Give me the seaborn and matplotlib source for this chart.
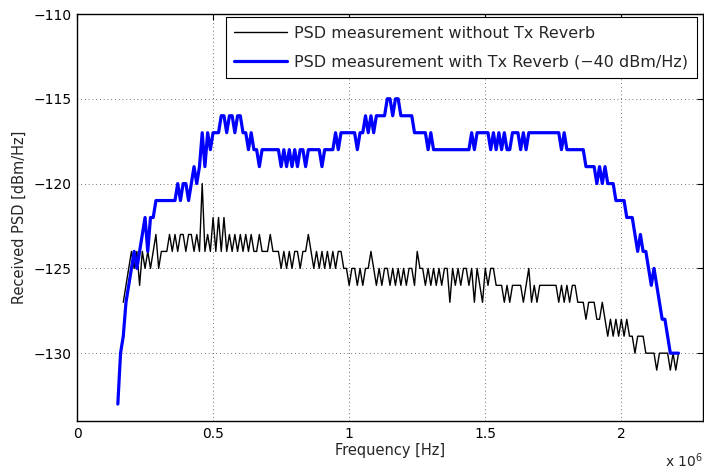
import matplotlib
matplotlib.use("Agg")
import matplotlib.pyplot as plt
import numpy as np
import pandas as pd
import seaborn as sns

# frequency grid in MHz (step 0.01 MHz)
FREQ_STEP = 0.01
BLUE_START = 0.15
BLACK_START = 0.17

# PSD with Tx Reverb (-40 dBm/Hz), 0.15 .. 2.21 MHz
psd_reverb = [
    -133, -130, -129, -127, -126, -125, -124, -125, -124, -123,   # 0.15
    -122, -124, -122, -122, -121, -121, -121, -121, -121, -121,   # 0.25
    -121, -121, -120, -121, -120, -120, -121, -120, -119, -120,   # 0.35
    -119, -117, -119, -117, -118, -117, -117, -117, -116, -116,   # 0.45
    -117, -116, -116, -117, -116, -116, -117, -117, -118, -117,   # 0.55
    -118, -118, -119, -118, -118, -118, -118, -118, -118, -118,   # 0.65
    -119, -118, -119, -118, -119, -118, -119, -118, -118, -119,   # 0.75
    -118, -118, -118, -118, -118, -119, -118, -118, -118, -118,   # 0.85
    -117, -118, -117, -117, -117, -117, -117, -117, -118, -117,   # 0.95
    -117, -116, -117, -116, -117, -116, -116, -116, -116, -115,   # 1.05
    -115, -116, -115, -115, -116, -116, -116, -116, -116, -117,   # 1.15
    -117, -117, -117, -117, -118, -117, -118, -118, -118, -118,   # 1.25
    -118, -118, -118, -118, -118, -118, -118, -118, -118, -118,   # 1.35
    -117, -118, -117, -117, -117, -117, -117, -118, -117, -118,   # 1.45
    -117, -118, -117, -118, -118, -117, -117, -117, -118, -117,   # 1.55
    -118, -117, -117, -117, -117, -117, -117, -117, -117, -117,   # 1.65
    -117, -117, -117, -118, -117, -118, -118, -118, -118, -118,   # 1.75
    -118, -118, -119, -119, -119, -119, -120, -119, -120, -119,   # 1.85
    -120, -120, -120, -121, -121, -121, -121, -122, -122, -122,   # 1.95
    -123, -124, -123, -124, -124, -125, -126, -125, -126, -127,   # 2.05
    -128, -128, -129, -130, -130, -130, -130,                     # 2.15
]

# PSD without Tx Reverb, 0.17 .. 2.21 MHz
psd_plain = [
    -127, -126, -125, -124, -125, -124, -126, -124, -125, -124,   # 0.17
    -125, -124, -123, -125, -124, -124, -124, -123, -124, -123,   # 0.27
    -124, -123, -123, -124, -123, -123, -124, -123, -124, -120,   # 0.37
    -124, -123, -124, -122, -124, -122, -124, -122, -124, -123,   # 0.47
    -124, -123, -124, -123, -124, -123, -124, -123, -124, -124,   # 0.57
    -123, -124, -124, -124, -123, -124, -124, -124, -125, -124,   # 0.67
    -125, -124, -125, -124, -124, -125, -124, -124, -123, -124,   # 0.77
    -125, -124, -125, -124, -125, -124, -125, -124, -125, -124,   # 0.87
    -124, -125, -125, -126, -125, -125, -126, -125, -126, -125,   # 0.97
    -125, -124, -125, -126, -125, -126, -125, -125, -126, -125,   # 1.07
    -126, -125, -126, -125, -126, -125, -125, -126, -124, -125,   # 1.17
    -125, -126, -125, -126, -125, -126, -125, -126, -125, -125,   # 1.27
    -127, -125, -126, -125, -126, -125, -125, -126, -125, -127,   # 1.37
    -125, -126, -127, -125, -126, -125, -125, -126, -126, -126,   # 1.47
    -127, -126, -127, -126, -126, -126, -126, -127, -126, -125,   # 1.57
    -127, -126, -127, -126, -126, -126, -126, -126, -126, -126,   # 1.67
    -127, -126, -127, -126, -127, -126, -126, -127, -127, -127,   # 1.77
    -128, -127, -127, -127, -128, -128, -127, -128, -129, -128,   # 1.87
    -129, -128, -129, -128, -129, -128, -129, -129, -130, -129,   # 1.97
    -129, -129, -130, -130, -130, -130, -131, -130, -130, -130,   # 2.07
    -130, -131, -130, -131, -130,                                 # 2.17
]

LABEL_PLAIN = "PSD measurement without Tx Reverb"
LABEL_REVERB = "PSD measurement with Tx Reverb (\u221240 dBm/Hz)"

x_ticks = [0, 0.5e6, 1e6, 1.5e6, 2e6]
x_ticklabels = ["0", "0.5", "1", "1.5", "2"]
y_ticks = [-130, -125, -120, -115, -110]
y_ticklabels = ["\u2212130", "\u2212125", "\u2212120", "\u2212115", "\u2212110"]


def to_frame(start, values, label):
    freq_hz = (start + FREQ_STEP * np.arange(len(values))) * 1e6
    return pd.DataFrame({"freq": freq_hz, "psd": values, "series": label})


df_plain = to_frame(BLACK_START, psd_plain, LABEL_PLAIN)
df_reverb = to_frame(BLUE_START, psd_reverb, LABEL_REVERB)

sns.set_style("white")
plt.rcParams["font.family"] = ["DejaVu Sans"]
plt.rcParams["font.size"] = 10

fig = plt.figure(figsize=(7.04, 4.72), dpi=100)
ax = fig.add_axes([77 / 704, 1 - 421 / 472, 626 / 704, 407 / 472])

sns.lineplot(data=df_plain, x="freq", y="psd", ax=ax, color="black",
             linewidth=1.0, sort=False, estimator=None, label=LABEL_PLAIN)
sns.lineplot(data=df_reverb, x="freq", y="psd", ax=ax, color="#0000ff",
             linewidth=2.3, sort=False, estimator=None, label=LABEL_REVERB)

ax.set_xlim(0, 2.3e6)
ax.set_ylim(-134, -110)
ax.set_xticks(x_ticks)
ax.set_xticklabels(x_ticklabels)
ax.set_yticks(y_ticks)
ax.set_yticklabels(y_ticklabels)
ax.tick_params(direction="in", length=4, width=0.8, top=True, right=True,
               labelsize=10, colors="black", pad=4)

ax.grid(True, color="#444444", linestyle=(0, (1, 3.5)), linewidth=0.6)
for side in ax.spines.values():
    side.set_color("black")
    side.set_linewidth(1.0)

ax.set_xlabel("Frequency [Hz]", fontsize=10.5, labelpad=2)
ax.set_ylabel("Received PSD [dBm/Hz]", fontsize=10.5, labelpad=5)
# multiplier label sits at the lower right corner, as in the original
fig.text(665 / 704, 1 - 467 / 472, "x 10$^{6}$", fontsize=10, ha="left")

leg = ax.legend(loc="upper right", bbox_to_anchor=((697 - 77) / 626, 1 - 3 / 407),
                borderaxespad=0, fancybox=False, framealpha=1, edgecolor="black",
                handlelength=3.3, handletextpad=0.45, labelspacing=0.85,
                borderpad=0.55, fontsize=11.5)
leg.get_frame().set_linewidth(0.8)

fig.savefig("out.png", dpi=100)
